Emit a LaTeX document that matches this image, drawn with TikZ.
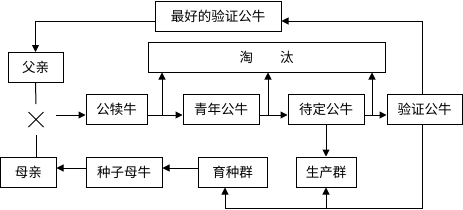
\documentclass[tikz,border=0pt]{standalone}
\usepackage{fontspec}
\newfontfamily\cjk{Noto Sans CJK SC}
\usetikzlibrary{arrows.meta,shapes.misc}

\begin{document}
\begin{tikzpicture}[x=1pt,y=-1pt,line width=1pt,
    box/.style={draw,minimum height=30pt,inner sep=0pt,font=\cjk\fontsize{13.5}{16}\selectfont},
    arr/.style={-{Triangle[length=7pt,width=7pt]}}]
        \useasboundingbox (0,0) rectangle (463,209);
        % Top: best bulls and culling
        \node[box,minimum width=126pt] (best) at (218,16) {最好的验证公牛};
        \node[box,minimum width=237pt] (taotai) at (266.5,57) {淘\hspace{2em}汰};
        \node[box,minimum width=55pt] (father) at (35.5,67.5) {父亲};
        % Middle row: bull line
        \node[draw,cross out,minimum size=15pt,inner sep=0pt,outer sep=0pt] (mate) at (36,119.5) {};
        \node[box,minimum width=61pt] (calf) at (116.5,109) {公犊牛};
        \node[box,minimum width=76pt] (young) at (221,109) {青年公牛};
        \node[box,minimum width=76pt] (pending) at (326,109) {待定公牛};
        \node[box,minimum width=75pt] (verify) at (424.5,109) {验证公牛};
        % Bottom row: cow line
        \node[box,minimum width=55.5pt] (mother) at (28.25,172) {母亲};
        \node[box,minimum width=76pt] (seed) at (124,172) {种子母牛};
        \node[box,minimum width=69pt] (breed) at (232.5,172) {育种群};
        \node[box,minimum width=60pt] (prod) at (326,172) {生产群};
        % Feedback of best bulls
        \draw[arr] ([xshift=-2.5pt]verify.north) |- ([yshift=-5pt]best.east);
        \draw[arr] ([yshift=-5pt]best.west) -| (father.north);
        % Mating
        \draw[shorten >=8pt] (father) -- (mate);
        \draw[shorten <=8pt] (mate) -- (mate |- mother.north);
        \draw[arr,shorten <=12pt] ([yshift=4.5pt]mate.east) -- ([yshift=-6pt]calf.west);
        % Bull selection
        \draw[arr] ([yshift=-6pt]calf.east) -- ([yshift=-6pt]young.west);
        \draw[arr] ([yshift=-6pt]young.east) -- ([yshift=-6pt]pending.west);
        \draw[arr] ([yshift=-6pt]pending.east) -- ([yshift=-6pt]verify.west);
        \coordinate (c1) at (162,115);
        \coordinate (c2) at (268,115);
        \coordinate (c3) at (372,115);
        \draw[arr] (c1) -- (c1 |- taotai.south);
        \draw[arr] (c2) -- (c2 |- taotai.south);
        \draw[arr] (c3) -- (c3 |- taotai.south);
        \draw[arr] (pending) -- (prod);
        % Cow line
        \draw[arr] ([yshift=4pt]breed.west) -- ([yshift=4pt]seed.east);
        \draw[arr] ([yshift=4pt]seed.west) -- ([yshift=4pt]mother.east);
        % Semen of verified bulls back to herds
        \coordinate (base) at (225,208);
        \draw ([xshift=-2.5pt]verify.south) |- (base);
        \draw[arr] (base) -- (base |- breed.south);
        \draw[arr] (prod.south |- base) -- (prod.south);
\end{tikzpicture}
\end{document}
